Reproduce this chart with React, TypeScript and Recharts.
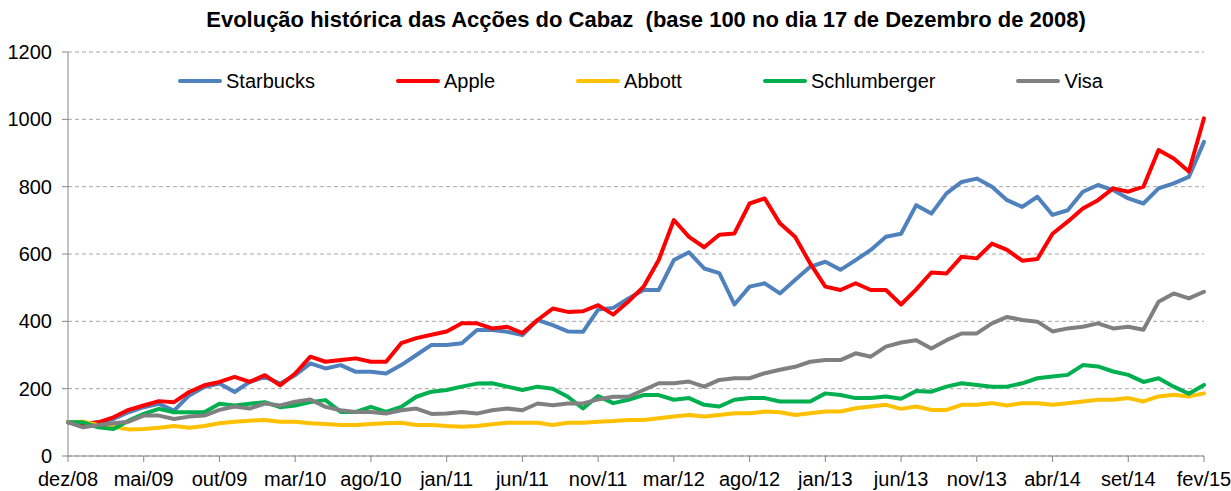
import { CartesianGrid, Legend, Line, LineChart, XAxis, YAxis } from "recharts";

// one point per ~month, index 0 = dez/08, 75 = fev/15
const xLabels = [
  "dez/08", "mai/09", "out/09", "mar/10", "ago/10", "jan/11", "jun/11", "nov/11",
  "mar/12", "ago/12", "jan/13", "jun/13", "nov/13", "abr/14", "set/14", "fev/15",
];
const yTicks = [0, 200, 400, 600, 800, 1000, 1200];

const starbucks = [
  100, 95, 100, 110, 130, 145, 155, 135, 180, 205, 215, 190, 220, 235, 215, 240,
  275, 260, 270, 250, 250, 245, 270, 300, 330, 330, 335, 374, 374, 369, 359, 404,
  389, 370, 369, 435, 440, 468, 493, 493, 582, 605, 557, 543, 450, 503, 513, 483,
  523, 562, 577, 553, 582, 612, 651, 660, 745, 720, 780, 814, 824, 800, 760, 740,
  770, 716, 730, 785, 805, 790, 765, 750, 795, 810, 829, 933,
];
const apple = [
  100, 95, 100, 115, 137, 150, 163, 160, 190, 210, 220, 235, 220, 240, 210, 245,
  295, 280, 285, 290, 280, 280, 335, 350, 360, 370, 394, 394, 379, 384, 365, 404,
  438, 428, 430, 448, 420, 459, 503, 582, 701, 651, 620, 657, 661, 750, 765, 691,
  651, 572, 503, 493, 513, 493, 493, 450, 495, 545, 542, 592, 587, 631, 612, 580,
  585, 660, 696, 735, 760, 795, 785, 800, 909, 884, 845, 1003,
];
const abbott = [
  100, 102, 92, 87, 79, 80, 84, 89, 84, 89, 97, 102, 105, 107, 102, 102,
  97, 95, 92, 92, 95, 97, 99, 92, 92, 89, 87, 89, 94, 99, 99, 99,
  92, 99, 99, 102, 104, 107, 107, 112, 117, 122, 117, 122, 127, 127, 132, 130,
  122, 127, 132, 132, 142, 147, 152, 140, 147, 137, 137, 152, 152, 157, 150, 157,
  157, 152, 157, 162, 167, 167, 172, 162, 177, 182, 177, 186,
];
const schlumberger = [
  100, 100, 85, 80, 105, 125, 140, 130, 130, 130, 155, 150, 155, 160, 145, 150,
  160, 166, 131, 131, 146, 131, 146, 176, 191, 196, 206, 215, 216, 206, 196, 206,
  200, 176, 141, 178, 157, 167, 181, 181, 167, 172, 152, 147, 167, 172, 172, 162,
  162, 162, 186, 181, 172, 172, 177, 170, 193, 191, 206, 216, 211, 206, 206, 216,
  231, 236, 241, 270, 266, 251, 241, 220, 231, 206, 185, 211,
];
const visa = [
  100, 85, 92, 97, 102, 120, 120, 110, 117, 120, 137, 147, 141, 156, 150, 161,
  168, 146, 136, 131, 131, 126, 136, 141, 125, 126, 131, 126, 136, 141, 136, 156,
  151, 156, 156, 168, 176, 176, 196, 216, 216, 221, 206, 226, 231, 231, 246, 256,
  265, 280, 285, 285, 305, 295, 325, 337, 344, 319, 344, 364, 364, 394, 413, 404,
  399, 370, 379, 384, 394, 379, 384, 375, 458, 483, 468, 488,
];

const SERIES = [
  { key: "starbucks", name: "Starbucks", color: "#4f81bd" },
  { key: "apple", name: "Apple", color: "#ff0000" },
  { key: "abbott", name: "Abbott", color: "#ffc000" },
  { key: "schlumberger", name: "Schlumberger", color: "#00b050" },
  { key: "visa", name: "Visa", color: "#808080" },
];

const data = starbucks.map((v, i) => ({
  i,
  starbucks: v,
  apple: apple[i],
  abbott: abbott[i],
  schlumberger: schlumberger[i],
  visa: visa[i],
}));

const FONT = "'Liberation Sans', Arial, sans-serif";
const TICK = { fill: "#000", fontSize: 20, fontFamily: FONT };
const AXIS = "#868686";

function LegendRow() {
  return (
    <div style={{ display: "flex", alignItems: "center", gap: 81, fontFamily: FONT, fontSize: 20, color: "#000", lineHeight: "24px" }}>
      {SERIES.map((s) => (
        <div key={s.key} style={{ display: "flex", alignItems: "center", gap: 4 }}>
          <div style={{ width: 44, height: 4, borderRadius: 2, background: s.color }} />
          <span>{s.name}</span>
        </div>
      ))}
    </div>
  );
}

export default function App() {
  return (
    <div style={{ position: "absolute", left: 0, top: 0, width: 1231, height: 491, background: "#fff" }}>
      <div
        style={{
          position: "absolute", left: 0, top: 7, width: 1292, textAlign: "center",
          fontFamily: FONT, fontWeight: "bold", fontSize: 22, whiteSpace: "pre", color: "#000",
        }}
      >
        {"Evolução histórica das Acções do Cabaz  (base 100 no dia 17 de Dezembro de 2008)"}
      </div>
      <LineChart width={1231} height={491} data={data} margin={{ top: 52, right: 27, left: 8, bottom: 5 }}>
        <CartesianGrid vertical={false} stroke="#a6a6a6" strokeDasharray="4 3" />
        <XAxis
          dataKey="i"
          type="number"
          domain={[0, 75]}
          ticks={xLabels.map((_, k) => k * 5)}
          tickFormatter={(v: number) => xLabels[v / 5]}
          interval={0}
          height={30}
          tick={TICK}
          tickSize={6}
          tickMargin={10}
          stroke={AXIS}
        />
        <YAxis
          domain={[0, 1200]}
          ticks={yTicks}
          width={60}
          tick={TICK}
          tickSize={6}
          tickMargin={10}
          stroke={AXIS}
          interval={0}
        />
        <Legend
          verticalAlign="middle"
          align="center"
          layout="horizontal"
          wrapperStyle={{ top: 69, left: 178 }}
          content={() => <LegendRow />}
        />
        {SERIES.map((s) => (
          <Line
            key={s.key}
            dataKey={s.key}
            name={s.name}
            stroke={s.color}
            strokeWidth={4}
            dot={false}
            strokeLinejoin="round"
            strokeLinecap="round"
            isAnimationActive={false}
          />
        ))}
      </LineChart>
    </div>
  );
}
